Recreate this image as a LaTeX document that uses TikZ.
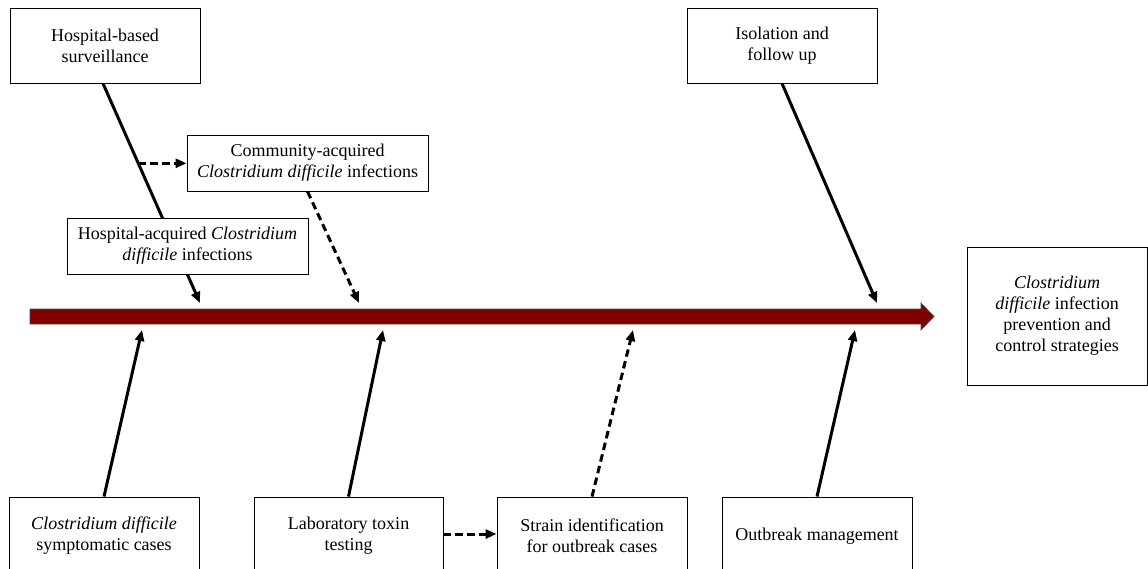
\documentclass[tikz,border=0pt]{standalone}
\usepackage{fontspec}
\setmainfont{Liberation Serif}
\usetikzlibrary{arrows.meta,calc}
\definecolor{spine}{RGB}{128,0,0}
\begin{document}
\begin{tikzpicture}[x=1pt,y=-1pt,
  box/.style={draw,line width=0.9pt,fill=white,align=center,font=\fontsize{18}{21}\selectfont,inner sep=0pt},
  arr/.style={line width=3pt,-{Triangle[length=11pt,width=9pt]}},
  dsh/.style={arr,dash pattern=on 7.5pt off 4.5pt}]
\useasboundingbox (0,0) rectangle (1148,569);
\clip (0,0) rectangle (1148,569);
% spine
\filldraw[fill=spine,draw=gray!60!black,line width=0.7pt]
  (30,309) -- (921,309) -- (921,303) -- (934,316.5) -- (921,330) -- (921,324) -- (30,324) -- cycle;
\coordinate (t1) at (200,303);
\coordinate (t2) at (359,303);
\coordinate (t3) at (877,303);
\coordinate (b1) at (142,330);
\coordinate (b2) at (383,330);
\coordinate (b3) at (633,330);
\coordinate (b4) at (855,330);
% top boxes
\node[box,minimum width=190pt,minimum height=75pt] (hbs) at (105,45.5) {Hospital-based\\surveillance};
\node[box,minimum width=190pt,minimum height=75pt] (iso) at (782,45.5) {Isolation and\\follow up};
\coordinate (s1) at ($(hbs.south)+(-2,0)$);
\draw[arr] (s1) -- (t1);
\coordinate (m) at ($(s1)!0.3636!(t1)$);
\node[box,minimum width=241pt,minimum height=56pt] (cai) at (307.5,163) {Community-acquired\\\textit{Clostridium difficile} infections};
\node[box,minimum width=241pt,minimum height=56pt] (hai) at (187.5,246) {Hospital-acquired \textit{Clostridium}\\\textit{difficile} infections};
\draw[dsh] (m) -- (m -| cai.west);
\draw[dsh] (cai.south) -- (t2);
\draw[arr] (iso.south) -- (t3);
% result
\node[box,minimum width=180pt,minimum height=138pt] (res) at (1057,316) {\textit{Clostridium}\\\textit{difficile} infection\\prevention and\\control strategies};
% bottom boxes
\node[box,minimum width=190pt,minimum height=78pt] (sym) at (104,536) {\textit{Clostridium difficile}\\symptomatic cases};
\node[box,minimum width=189pt,minimum height=78pt] (lab) at (348.5,536) {Laboratory toxin\\testing};
\node[box,minimum width=190pt,minimum height=78pt] (str) at (592,536) {Strain identification\\for outbreak cases};
\node[box,minimum width=190pt,minimum height=78pt] (obm) at (817,536) {Outbreak management};
\draw[arr] (sym.north) -- (b1);
\draw[arr] (lab.north) -- (b2);
\draw[dsh] (str.north) -- (b3);
\draw[arr] (obm.north) -- (b4);
\draw[dsh] ([yshift=2pt]lab.east) -- ([yshift=2pt]str.west);
\end{tikzpicture}
\end{document}
